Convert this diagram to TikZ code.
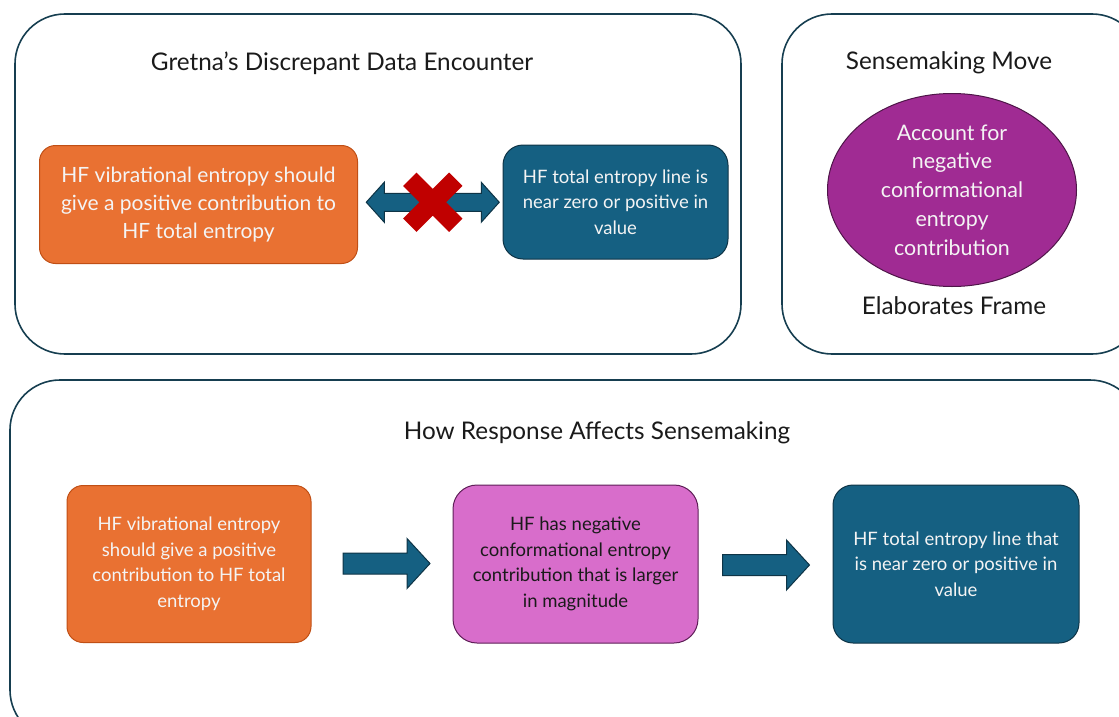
\documentclass[tikz,border=0pt]{standalone}
\usepackage{fontspec}
\setmainfont{Lato}
\usetikzlibrary{calc}
\definecolor{frameline}{HTML}{163E50}
\definecolor{orangefill}{HTML}{E97132}
\definecolor{orangeline}{HTML}{C04F15}
\definecolor{navyfill}{HTML}{156082}
\definecolor{navyline}{HTML}{0E3446}
\definecolor{purplefill}{HTML}{A02B93}
\definecolor{purpleline}{HTML}{4E1548}
\definecolor{pinkfill}{HTML}{D86DCB}
\definecolor{pinkline}{HTML}{5E1E57}
\definecolor{redx}{HTML}{C00000}
\definecolor{txtdark}{HTML}{1A1A1A}
\definecolor{txtlight}{HTML}{F4F4F4}
\begin{document}
\begin{tikzpicture}[x=1pt,y=-1pt,
  frame/.style={draw=frameline,line width=1.6pt,rounded corners=50pt,inner sep=0pt},
  ttl/.style={text=txtdark,font=\fontsize{24.3}{28}\selectfont,inner sep=0pt},
  obox/.style={draw=orangeline,fill=orangefill,line width=1pt,rounded corners=16pt,inner sep=0pt,text=txtlight,align=center},
  nbox/.style={draw=navyline,fill=navyfill,line width=1pt,rounded corners=20pt,inner sep=0pt,text=txtlight,align=center},
  pbox/.style={draw=pinkline,fill=pinkfill,line width=1pt,rounded corners=24pt,inner sep=0pt,text=txtdark,align=center},
  blockarrow/.style={draw=navyline,fill=navyfill,line width=1pt,line join=miter},
  bigtxt/.style={font=\fontsize{21}{28}\selectfont},
  smalltxt/.style={font=\fontsize{18.5}{25.5}\selectfont}
]
\clip (0,0) rectangle (1119,717);
\useasboundingbox (0,0) rectangle (1119,717);

% frames
\node[frame,minimum width=726,minimum height=340] (f1) at (378,184) {};
\node[frame,minimum width=360,minimum height=340] (f2) at (962,184) {};
\node[frame,minimum width=1130,minimum height=360] (f3) at (575,560) {};

% titles
\node[ttl] (t1) at (342,63) {Gretna’s Discrepant Data Encounter};
\node[ttl] (t2) at (949,63) {Sensemaking Move};
\node[ttl] (t3) at (597,433) {How Response Affects Sensemaking};
\node[ttl] (t4) at (954,306) {Elaborates Frame};

% top-left content
\node[obox,bigtxt,minimum width=318,minimum height=118] (o1) at (198.5,204.5)
  {HF vibrational entropy should\\give a positive contribution to\\HF total entropy};
\node[nbox,smalltxt,minimum width=225,minimum height=114] (n1) at (615.5,202)
  {HF total entropy line is\\near zero or positive in\\value};

\coordinate (c1) at ($(o1.east)!0.5!(n1.west)+(2.5,-1)$);
\draw[blockarrow,shift={(c1)}] (-66.5,0) -- (-48.5,-20) -- (-48.5,-9) -- (48.5,-9) -- (48.5,-20)
  -- (66.5,0) -- (48.5,20) -- (48.5,9) -- (-48.5,9) -- (-48.5,20) -- cycle;
\draw[redx,line width=19pt,shift={(c1)}] (-23,-23) -- (23,23) (23,-23) -- (-23,23);

% top-right ellipse
\draw[draw=purpleline,fill=purplefill,line width=1pt] (952,190) ellipse [x radius=124.5,y radius=96.5];
\node[text=txtlight,align=center,inner sep=0pt,font=\fontsize{21.4}{28.8}\selectfont] (e1) at (952,190)
  {Account for\\negative\\conformational\\entropy\\contribution};

% bottom content
\node[obox,smalltxt,minimum width=244,minimum height=157] (o2) at (189,564)
  {HF vibrational entropy\\should give a positive\\contribution to HF total\\entropy};
\node[pbox,smalltxt,minimum width=245,minimum height=158] (p2) at (575.5,564)
  {HF has negative\\conformational entropy\\contribution that is larger\\in magnitude};
\node[nbox,smalltxt,minimum width=246,minimum height=158] (n2) at (956,564)
  {HF total entropy line that\\is near zero or positive in\\value};

\coordinate (c2) at ($(o2.east)!0.5!(p2.west)+(4.5,-0.5)$);
\coordinate (c3) at ($(p2.east)!0.5!(n2.west)+(0.5,1)$);
\foreach \c in {c2,c3}{
  \draw[blockarrow,shift={(\c)}] (-43.5,-10.5) -- (20.5,-10.5) -- (20.5,-25) -- (43.5,0)
    -- (20.5,25) -- (20.5,10.5) -- (-43.5,10.5) -- cycle;
}
\end{tikzpicture}
\end{document}
